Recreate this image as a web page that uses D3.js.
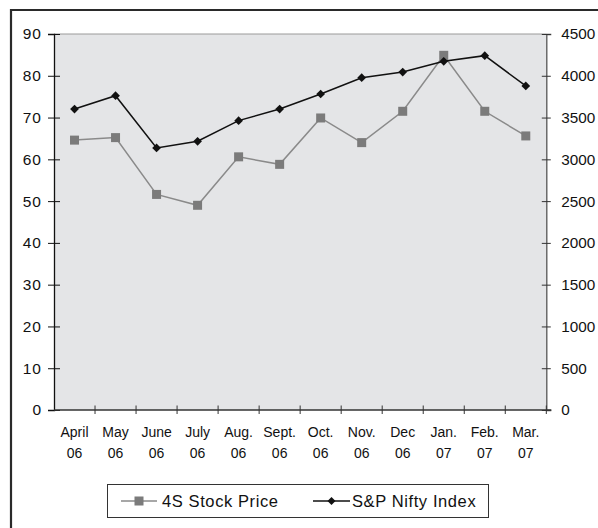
<!DOCTYPE html>
<html><head><meta charset="utf-8">
<script src="https://cdn.jsdelivr.net/npm/d3@7"></script>
<style>body{margin:0;background:#fff;}svg{display:block;font-family:"Liberation Sans",Arial,sans-serif;}</style>
</head><body>
<svg id="c" width="598" height="528"></svg>
<script>
const months = ["April 06","May 06","June 06","July 06","Aug. 06","Sept. 06","Oct. 06","Nov. 06","Dec 06","Jan. 07","Feb. 07","Mar. 07"];
const stockPrice = [64.6,65.2,51.6,49.0,60.6,58.8,69.9,64.0,71.5,84.9,71.5,65.6];
const niftyIndex = [3602,3762,3136,3216,3463,3602,3782,3977,4045,4173,4241,3878];
const leftTicks = [0,10,20,30,40,50,60,70,80,90];
const rightTicks = [0,500,1000,1500,2000,2500,3000,3500,4000,4500];
const seriesNames = ["4S Stock Price","S&P Nifty Index"];

const svg = d3.select("#c");
const L=54, R=546.3, T=34, B=410;
const FF = "Liberation Sans, Arial, sans-serif";

// outer frame
svg.append("path").attr("d",`M11,528 L11,10 L600,10`).attr("fill","none").attr("stroke","#2a2a2a").attr("stroke-width",2.2);

svg.append("rect").attr("x",L).attr("y",T).attr("width",R-L).attr("height",B-T).attr("fill","#e4e5e7");
svg.append("line").attr("x1",L).attr("x2",R).attr("y1",T).attr("y2",T).attr("stroke","#9a9a9a").attr("stroke-width",1);

const x = d3.scaleBand().domain(months).range([L,R]);
const yL = d3.scaleLinear().domain([0,90]).range([B,T]);
const yR = d3.scaleLinear().domain([0,4500]).range([B,T]);

// left axis
const gl = svg.append("g").attr("transform",`translate(${L},0)`)
  .call(d3.axisLeft(yL).tickValues(leftTicks).tickSize(6).tickPadding(8));
gl.select(".domain").attr("stroke","#111").attr("stroke-width",1.3);
gl.selectAll(".tick line").attr("stroke","#111").attr("x2",-6).attr("x1",6);
gl.selectAll(".tick text").attr("font-size",15.5).attr("letter-spacing",1).attr("fill","#111").attr("font-family",FF).attr("x",-12);

// right axis
const gr = svg.append("g").attr("transform",`translate(${R},0)`)
  .call(d3.axisRight(yR).tickValues(rightTicks).tickFormat(d3.format("d")).tickSize(5).tickPadding(8));
gr.select(".domain").attr("stroke","#555").attr("stroke-width",1.3);
gr.selectAll(".tick line").attr("stroke","#333").attr("x1",-4.5).attr("x2",4.5);
gr.selectAll(".tick text").attr("font-size",15.3).attr("fill","#111").attr("font-family",FF).attr("x",15);

// bottom axis
const gb = svg.append("g").attr("transform",`translate(0,${B})`);
gb.append("line").attr("x1",L).attr("x2",R+5).attr("stroke","#333").attr("stroke-width",1.3);
const boundaries = months.map(m=>x(m)).concat([R]);
gb.selectAll("line.tk").data(boundaries.slice(1)).enter().append("line").attr("class","tk")
  .attr("x1",d=>d).attr("x2",d=>d).attr("y1",-4.5).attr("y2",4).attr("stroke","#333");
const lbl = gb.selectAll("text.m").data(months).enter().append("text").attr("class","m")
  .attr("x",d=>x(d)+x.bandwidth()/2).attr("text-anchor","middle").attr("font-size",14).attr("fill","#111");
lbl.append("tspan").attr("x",d=>x(d)+x.bandwidth()/2).attr("y",26.7).text(d=>d.split(" ")[0]);
lbl.append("tspan").attr("x",d=>x(d)+x.bandwidth()/2).attr("y",47.5).text(d=>d.split(" ")[1]);

const cx = (d,i)=>x(months[i])+x.bandwidth()/2;

// stock line
svg.append("path").datum(stockPrice).attr("fill","none").attr("stroke","#8a8a8a").attr("stroke-width",1.5)
  .attr("d",d3.line().x(cx).y(d=>yL(d)));
svg.selectAll("rect.sq").data(stockPrice).enter().append("rect").attr("class","sq")
  .attr("x",(d,i)=>cx(d,i)-4.5).attr("y",d=>yL(d)-4.5).attr("width",9).attr("height",9).attr("fill","#7b7b7b");

// nifty line
svg.append("path").datum(niftyIndex).attr("fill","none").attr("stroke","#111").attr("stroke-width",1.5)
  .attr("d",d3.line().x(cx).y(d=>yR(d)));
svg.selectAll("path.dm").data(niftyIndex).enter().append("path").attr("class","dm")
  .attr("d",d3.symbol().type(d3.symbolSquare).size(38)())
  .attr("transform",(d,i)=>`translate(${cx(d,i)},${yR(d)}) rotate(45)`)
  .attr("fill","#111");

// legend
const lg = svg.append("g");
lg.append("rect").attr("x",107.5).attr("y",484.5).attr("width",381).attr("height",33).attr("fill","#fff").attr("stroke","#333").attr("stroke-width",1);
lg.append("line").attr("x1",121).attr("x2",157).attr("y1",501).attr("y2",501).attr("stroke","#8a8a8a").attr("stroke-width",1.5);
lg.append("rect").attr("x",134.5).attr("y",496.5).attr("width",9).attr("height",9).attr("fill","#7b7b7b");
lg.append("text").attr("x",162).attr("y",507).attr("font-size",16.5).attr("letter-spacing",0.6).attr("fill","#111").text(seriesNames[0]);
lg.append("line").attr("x1",313).attr("x2",350).attr("y1",501).attr("y2",501).attr("stroke","#111").attr("stroke-width",1.5);
lg.append("path").attr("d",d3.symbol().type(d3.symbolSquare).size(32)()).attr("transform","translate(331.5,501) rotate(45)").attr("fill","#111");
lg.append("text").attr("x",352).attr("y",507).attr("font-size",16.5).attr("letter-spacing",0.6).attr("fill","#111").text(seriesNames[1]);
</script>
</body></html>
